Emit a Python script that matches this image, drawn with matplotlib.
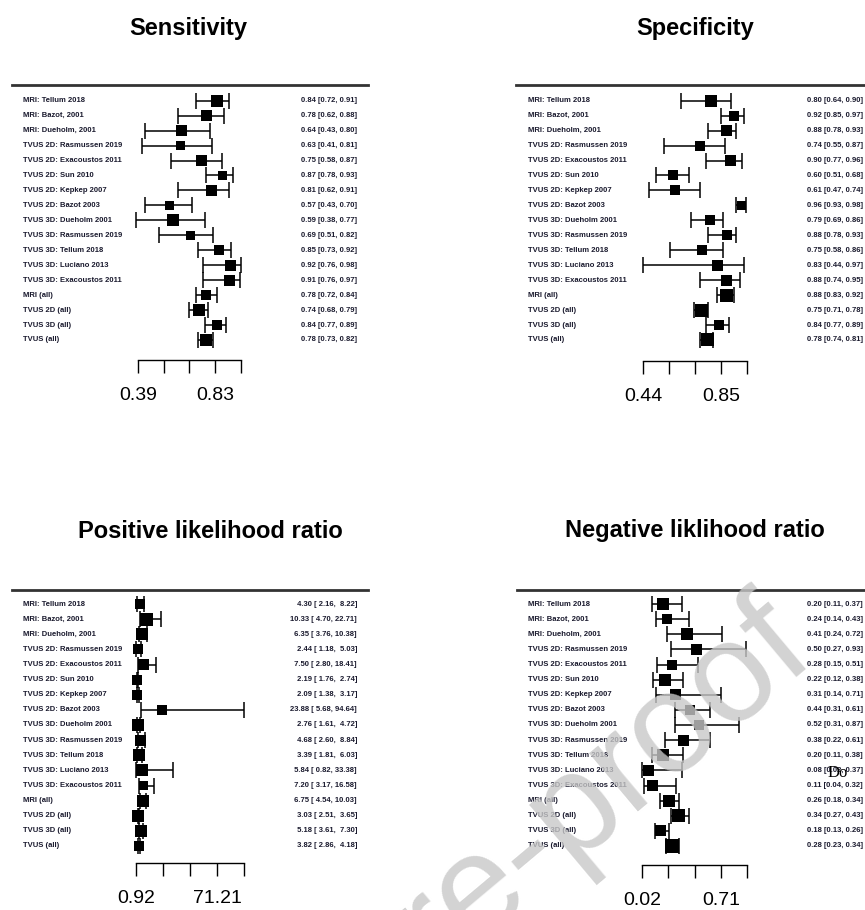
import numpy as np
import matplotlib.pyplot as plt
from matplotlib.lines import Line2D
from matplotlib.transforms import blended_transform_factory

plt.rcParams['font.family'] = ['Liberation Sans', 'DejaVu Sans']

studies = ["MRI: Tellum 2018", "MRI: Bazot, 2001", "MRI: Dueholm, 2001",
           "TVUS 2D: Rasmussen 2019", "TVUS 2D: Exacoustos 2011", "TVUS 2D: Sun 2010",
           "TVUS 2D: Kepkep 2007", "TVUS 2D: Bazot 2003", "TVUS 3D: Dueholm 2001",
           "TVUS 3D: Rasmussen 2019", "TVUS 3D: Tellum 2018", "TVUS 3D: Luciano 2013",
           "TVUS 3D: Exacoustos 2011", "MRI (all)", "TVUS 2D (all)", "TVUS 3D (all)",
           "TVUS (all)"]

sens_est = [0.84, 0.78, 0.64, 0.63, 0.75, 0.87, 0.81, 0.57, 0.59, 0.69, 0.85, 0.92, 0.91, 0.78, 0.74, 0.84, 0.78]
sens_lo = [0.72, 0.62, 0.43, 0.41, 0.58, 0.78, 0.62, 0.43, 0.38, 0.51, 0.73, 0.76, 0.76, 0.72, 0.68, 0.77, 0.73]
sens_hi = [0.91, 0.88, 0.80, 0.81, 0.87, 0.93, 0.91, 0.70, 0.77, 0.82, 0.92, 0.98, 0.97, 0.84, 0.79, 0.89, 0.82]
sens_w = [12, 11, 11, 9, 11, 9, 11, 9, 12, 9, 10, 11, 11, 10, 12, 10, 12]

spec_est = [0.80, 0.92, 0.88, 0.74, 0.90, 0.60, 0.61, 0.96, 0.79, 0.88, 0.75, 0.83, 0.88, 0.88, 0.75, 0.84, 0.78]
spec_lo = [0.64, 0.85, 0.78, 0.55, 0.77, 0.51, 0.47, 0.93, 0.69, 0.78, 0.58, 0.44, 0.74, 0.83, 0.71, 0.77, 0.74]
spec_hi = [0.90, 0.97, 0.93, 0.87, 0.96, 0.68, 0.74, 0.98, 0.86, 0.93, 0.86, 0.97, 0.95, 0.92, 0.78, 0.89, 0.81]
spec_w = [12, 10, 11, 10, 11, 10, 10, 9, 10, 10, 10, 11, 11, 13, 13, 10, 13]

plr_est = [4.30, 10.33, 6.35, 2.44, 7.50, 2.19, 2.09, 23.88, 2.76, 4.68, 3.39, 5.84, 7.20, 6.75, 3.03, 5.18, 3.82]
plr_lo = [2.16, 4.70, 3.76, 1.18, 2.80, 1.76, 1.38, 5.68, 1.61, 2.60, 1.81, 0.82, 3.17, 4.54, 2.51, 3.61, 2.86]
plr_hi = [8.22, 22.71, 10.38, 5.03, 18.41, 2.74, 3.17, 94.64, 4.72, 8.84, 6.03, 33.38, 16.58, 10.03, 3.65, 7.30, 4.18]
plr_w = [10, 13, 12, 10, 11, 10, 10, 10, 12, 11, 12, 12, 9, 12, 12, 12, 10]

nlr_est = [0.20, 0.24, 0.41, 0.50, 0.28, 0.22, 0.31, 0.44, 0.52, 0.38, 0.20, 0.08, 0.11, 0.26, 0.34, 0.18, 0.28]
nlr_lo = [0.11, 0.14, 0.24, 0.27, 0.15, 0.12, 0.14, 0.31, 0.31, 0.22, 0.11, 0.02, 0.04, 0.18, 0.27, 0.13, 0.23]
nlr_hi = [0.37, 0.43, 0.72, 0.93, 0.51, 0.38, 0.71, 0.61, 0.87, 0.61, 0.38, 0.37, 0.32, 0.34, 0.43, 0.26, 0.34]
nlr_w = [12, 10, 12, 11, 10, 12, 11, 10, 10, 11, 12, 11, 11, 12, 13, 11, 14]

W, H = 865, 910
fig = plt.figure(figsize=(W / 100, H / 100), dpi=100)


def fx(px):
    return px / W


def fy(py):
    return 1 - py / H


def forest(title, title_xy, est, lo, hi, wts, fmt, tick_vals, tick_px,
           rows_px, axis_py, lab_x, ci_x, rule):
    est, lo, hi = map(np.asarray, (est, lo, hi))
    n = len(est)
    a, b = tick_vals
    scale = (tick_px[1] - tick_px[0]) / (b - a)
    left, right = tick_px[0] - 30, tick_px[1] + 50
    top = rows_px[0] - 12
    ax = fig.add_axes([fx(left), fy(axis_py), (right - left) / W, (axis_py - top) / H])
    ax.set_xlim(a - (tick_px[0] - left) / scale, a + (right - tick_px[0]) / scale)
    step = (rows_px[1] - rows_px[0]) / (n - 1)
    ax.set_ylim((axis_py - rows_px[0]) / step, (top - rows_px[0]) / step)
    ax.patch.set_visible(False)

    y = np.arange(n)
    ax.errorbar(est, y, xerr=[est - lo, hi - est], fmt='none', ecolor='black',
                elinewidth=1.1, capsize=5.8, capthick=1.1)
    ax.scatter(est, y, marker='s', s=(np.asarray(wts) * 0.72) ** 2,
               color='black', linewidths=0, zorder=3)

    ticks = a + (b - a) / 3 * np.arange(5)
    ax.set_xticks(ticks)
    ax.set_xticklabels([f'{a:.2f}', '', '', f'{b:.2f}', ''])
    ax.set_yticks([])
    for side in ('left', 'right', 'top'):
        ax.spines[side].set_visible(False)
    ax.spines['bottom'].set_bounds(ticks[0], ticks[-1])
    ax.spines['bottom'].set_linewidth(1.0)
    ax.tick_params(axis='x', direction='out', length=9.5, width=1.0, pad=10,
                   labelsize=14)

    tr = blended_transform_factory(fig.transFigure, ax.transData)
    for i in range(n):
        ax.text(fx(lab_x), i, studies[i], transform=tr, ha='left', va='center',
                fontsize=5.5, fontweight='bold', color='#1a1a2e')
        ax.text(fx(ci_x), i, fmt.format(est[i], lo[i], hi[i]), transform=tr,
                ha='right', va='center', fontsize=5.5, fontweight='bold',
                color='#1a1a2e')

    x0, x1, yr = rule
    fig.add_artist(Line2D([fx(x0), fx(x1)], [fy(yr), fy(yr)],
                          transform=fig.transFigure, color='#333333', lw=2))
    fig.text(fx(title_xy[0]), fy(title_xy[1]), title, ha='center', va='center',
             fontsize=17, fontweight='bold')
    return ax


forest("Sensitivity", (188, 29), sens_est, sens_lo, sens_hi, sens_w,
       "{:.2f} [{:.2f}, {:.2f}]", (0.39, 0.83), (138, 215), (100.7, 340), 360,
       23, 357, (12, 368, 85))
forest("Specificity", (695, 29), spec_est, spec_lo, spec_hi, spec_w,
       "{:.2f} [{:.2f}, {:.2f}]", (0.44, 0.85), (643, 721), (100.7, 340), 361,
       528, 863, (516, 865, 85))
forest("Positive likelihood ratio", (210, 531), plr_est, plr_lo, plr_hi, plr_w,
       "{:5.2f} [{:5.2f}, {:5.2f}]", (0.92, 71.21), (136, 217), (604, 846), 863,
       23, 357, (12, 368, 590))
forest("Negative liklihood ratio", (695, 531), nlr_est, nlr_lo, nlr_hi, nlr_w,
       "{:.2f} [{:.2f}, {:.2f}]", (0.02, 0.71), (642, 721), (604, 846), 865,
       528, 863, (517, 865, 590))

# journal watermark and page footer fragment
fig.text(fx(818), fy(660), "Journal Pre-proof", rotation=40, rotation_mode='anchor',
         ha='right', va='baseline', fontsize=102, color='#c8c8c8', alpha=0.8,
         zorder=20)
fig.text(fx(828), fy(773), "Do", family='Liberation Serif', fontsize=12,
         ha='left', va='center')

fig.savefig('out.png', dpi=100)
